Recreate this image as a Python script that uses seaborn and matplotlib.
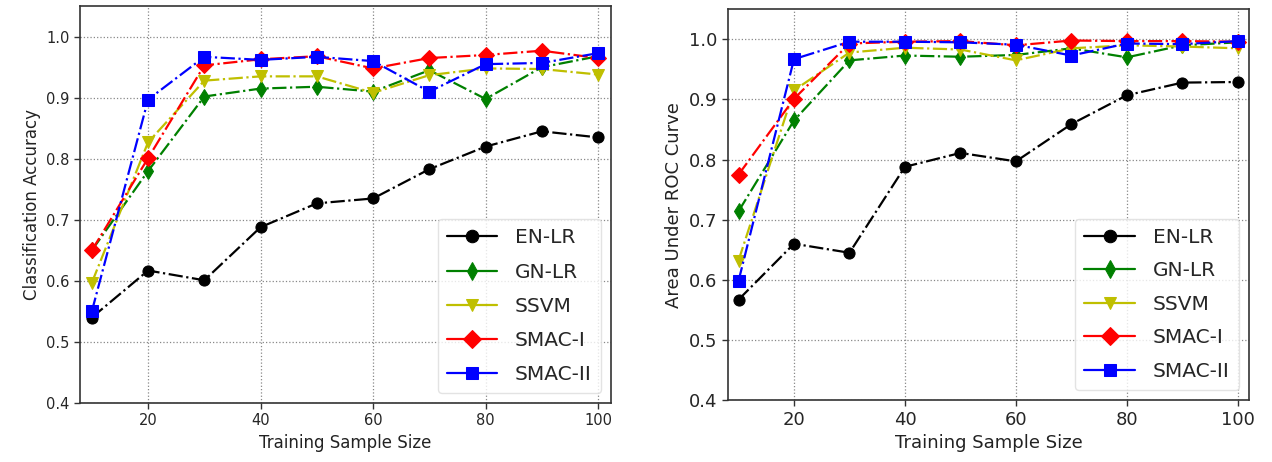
import numpy as np
import pandas as pd
import matplotlib
matplotlib.use("Agg")
import matplotlib.pyplot as plt
import seaborn as sns

sizes = [10, 20, 30, 40, 50, 60, 70, 80, 90, 100]
methods = ["EN-LR", "GN-LR", "SSVM", "SMAC-I", "SMAC-II"]

acc_en_lr   = [0.540, 0.617, 0.601, 0.688, 0.727, 0.735, 0.783, 0.820, 0.845, 0.835]
acc_gn_lr   = [0.650, 0.780, 0.902, 0.915, 0.918, 0.910, 0.945, 0.898, 0.950, 0.968]
acc_ssvm    = [0.597, 0.827, 0.928, 0.935, 0.935, 0.908, 0.937, 0.948, 0.947, 0.938]
acc_smac_i  = [0.650, 0.801, 0.953, 0.963, 0.968, 0.948, 0.965, 0.970, 0.977, 0.965]
acc_smac_ii = [0.550, 0.897, 0.967, 0.962, 0.967, 0.960, 0.910, 0.955, 0.957, 0.973]

auc_en_lr   = [0.567, 0.660, 0.645, 0.788, 0.811, 0.797, 0.859, 0.907, 0.928, 0.929]
auc_gn_lr   = [0.714, 0.865, 0.965, 0.973, 0.971, 0.974, 0.985, 0.970, 0.990, 0.995]
auc_ssvm    = [0.632, 0.915, 0.978, 0.986, 0.983, 0.965, 0.985, 0.990, 0.988, 0.985]
auc_smac_i  = [0.775, 0.901, 0.993, 0.996, 0.997, 0.990, 0.998, 0.997, 0.997, 0.996]
auc_smac_ii = [0.598, 0.967, 0.996, 0.996, 0.995, 0.991, 0.973, 0.993, 0.992, 0.997]

yticks = [0.4, 0.5, 0.6, 0.7, 0.8, 0.9, 1.0]
xticks = [20, 40, 60, 80, 100]

sns.set_theme(style="white")
plt.rcParams['font.family'] = ['DejaVu Sans']

colors = {"EN-LR": "black", "GN-LR": "green", "SSVM": "#bfbf00", "SMAC-I": "red", "SMAC-II": "blue"}
markers = {"EN-LR": "o", "GN-LR": "d", "SSVM": "v", "SMAC-I": "D", "SMAC-II": "s"}
msizes = {"EN-LR": 8, "GN-LR": 8, "SSVM": 8, "SMAC-I": 8, "SMAC-II": 8}

fig = plt.figure(figsize=(12.72, 4.62), dpi=100)
ax1 = fig.add_axes([0.0629, 0.1277, 0.4175, 0.859])
ax2 = fig.add_axes([0.5723, 0.134, 0.4096, 0.846])

def draw(ax, series, ylabel, tickfs, labelfs, legfs, xlim, lspace):
    for m, vals in zip(methods, series):
        df = pd.DataFrame({"x": sizes, "y": vals})
        sns.lineplot(data=df, x="x", y="y", ax=ax, color=colors[m], marker=markers[m],
                     markersize=msizes[m], markeredgecolor=colors[m], linestyle="-.",
                     linewidth=1.6, label=m)
    ax.set_xlim(*xlim)
    ax.set_ylim(0.4, 1.05)
    ax.set_yticks(yticks)
    ax.set_yticklabels([f"{v:.1f}" for v in yticks])
    ax.set_xticks(xticks)
    ax.set_xticklabels([str(v) for v in xticks])
    ax.tick_params(axis="both", labelsize=tickfs, length=4, width=1, color="#333333",
                   direction="out", bottom=True, left=True)
    ax.set_xlabel("Training Sample Size", fontsize=labelfs, color="#222222")
    ax.set_ylabel(ylabel, fontsize=labelfs, color="#222222")
    ax.grid(True, linestyle=":", color="#888888", linewidth=0.9)
    for s in ax.spines.values():
        s.set_color("#333333")
        s.set_linewidth(1.2)
    leg = ax.legend(loc="lower right", fontsize=legfs, frameon=True, handlelength=2.5,
                    borderpad=0.45, labelspacing=lspace, handletextpad=0.9,
                    borderaxespad=0.5, fancybox=True, framealpha=0.8, edgecolor="#dddddd")
    for h in leg.get_lines():
        h.set_linestyle("-")
        h.set_markersize(9)

draw(ax1, [acc_en_lr, acc_gn_lr, acc_ssvm, acc_smac_i, acc_smac_ii],
     "Classification Accuracy", 10.5, 12, 14.5, (7.9, 102.3), 0.75)
draw(ax2, [auc_en_lr, auc_gn_lr, auc_ssvm, auc_smac_i, auc_smac_ii],
     "Area Under ROC Curve", 13, 13, 14.5, (8.1, 102.0), 0.72)

fig.savefig("out.png", dpi=100)
